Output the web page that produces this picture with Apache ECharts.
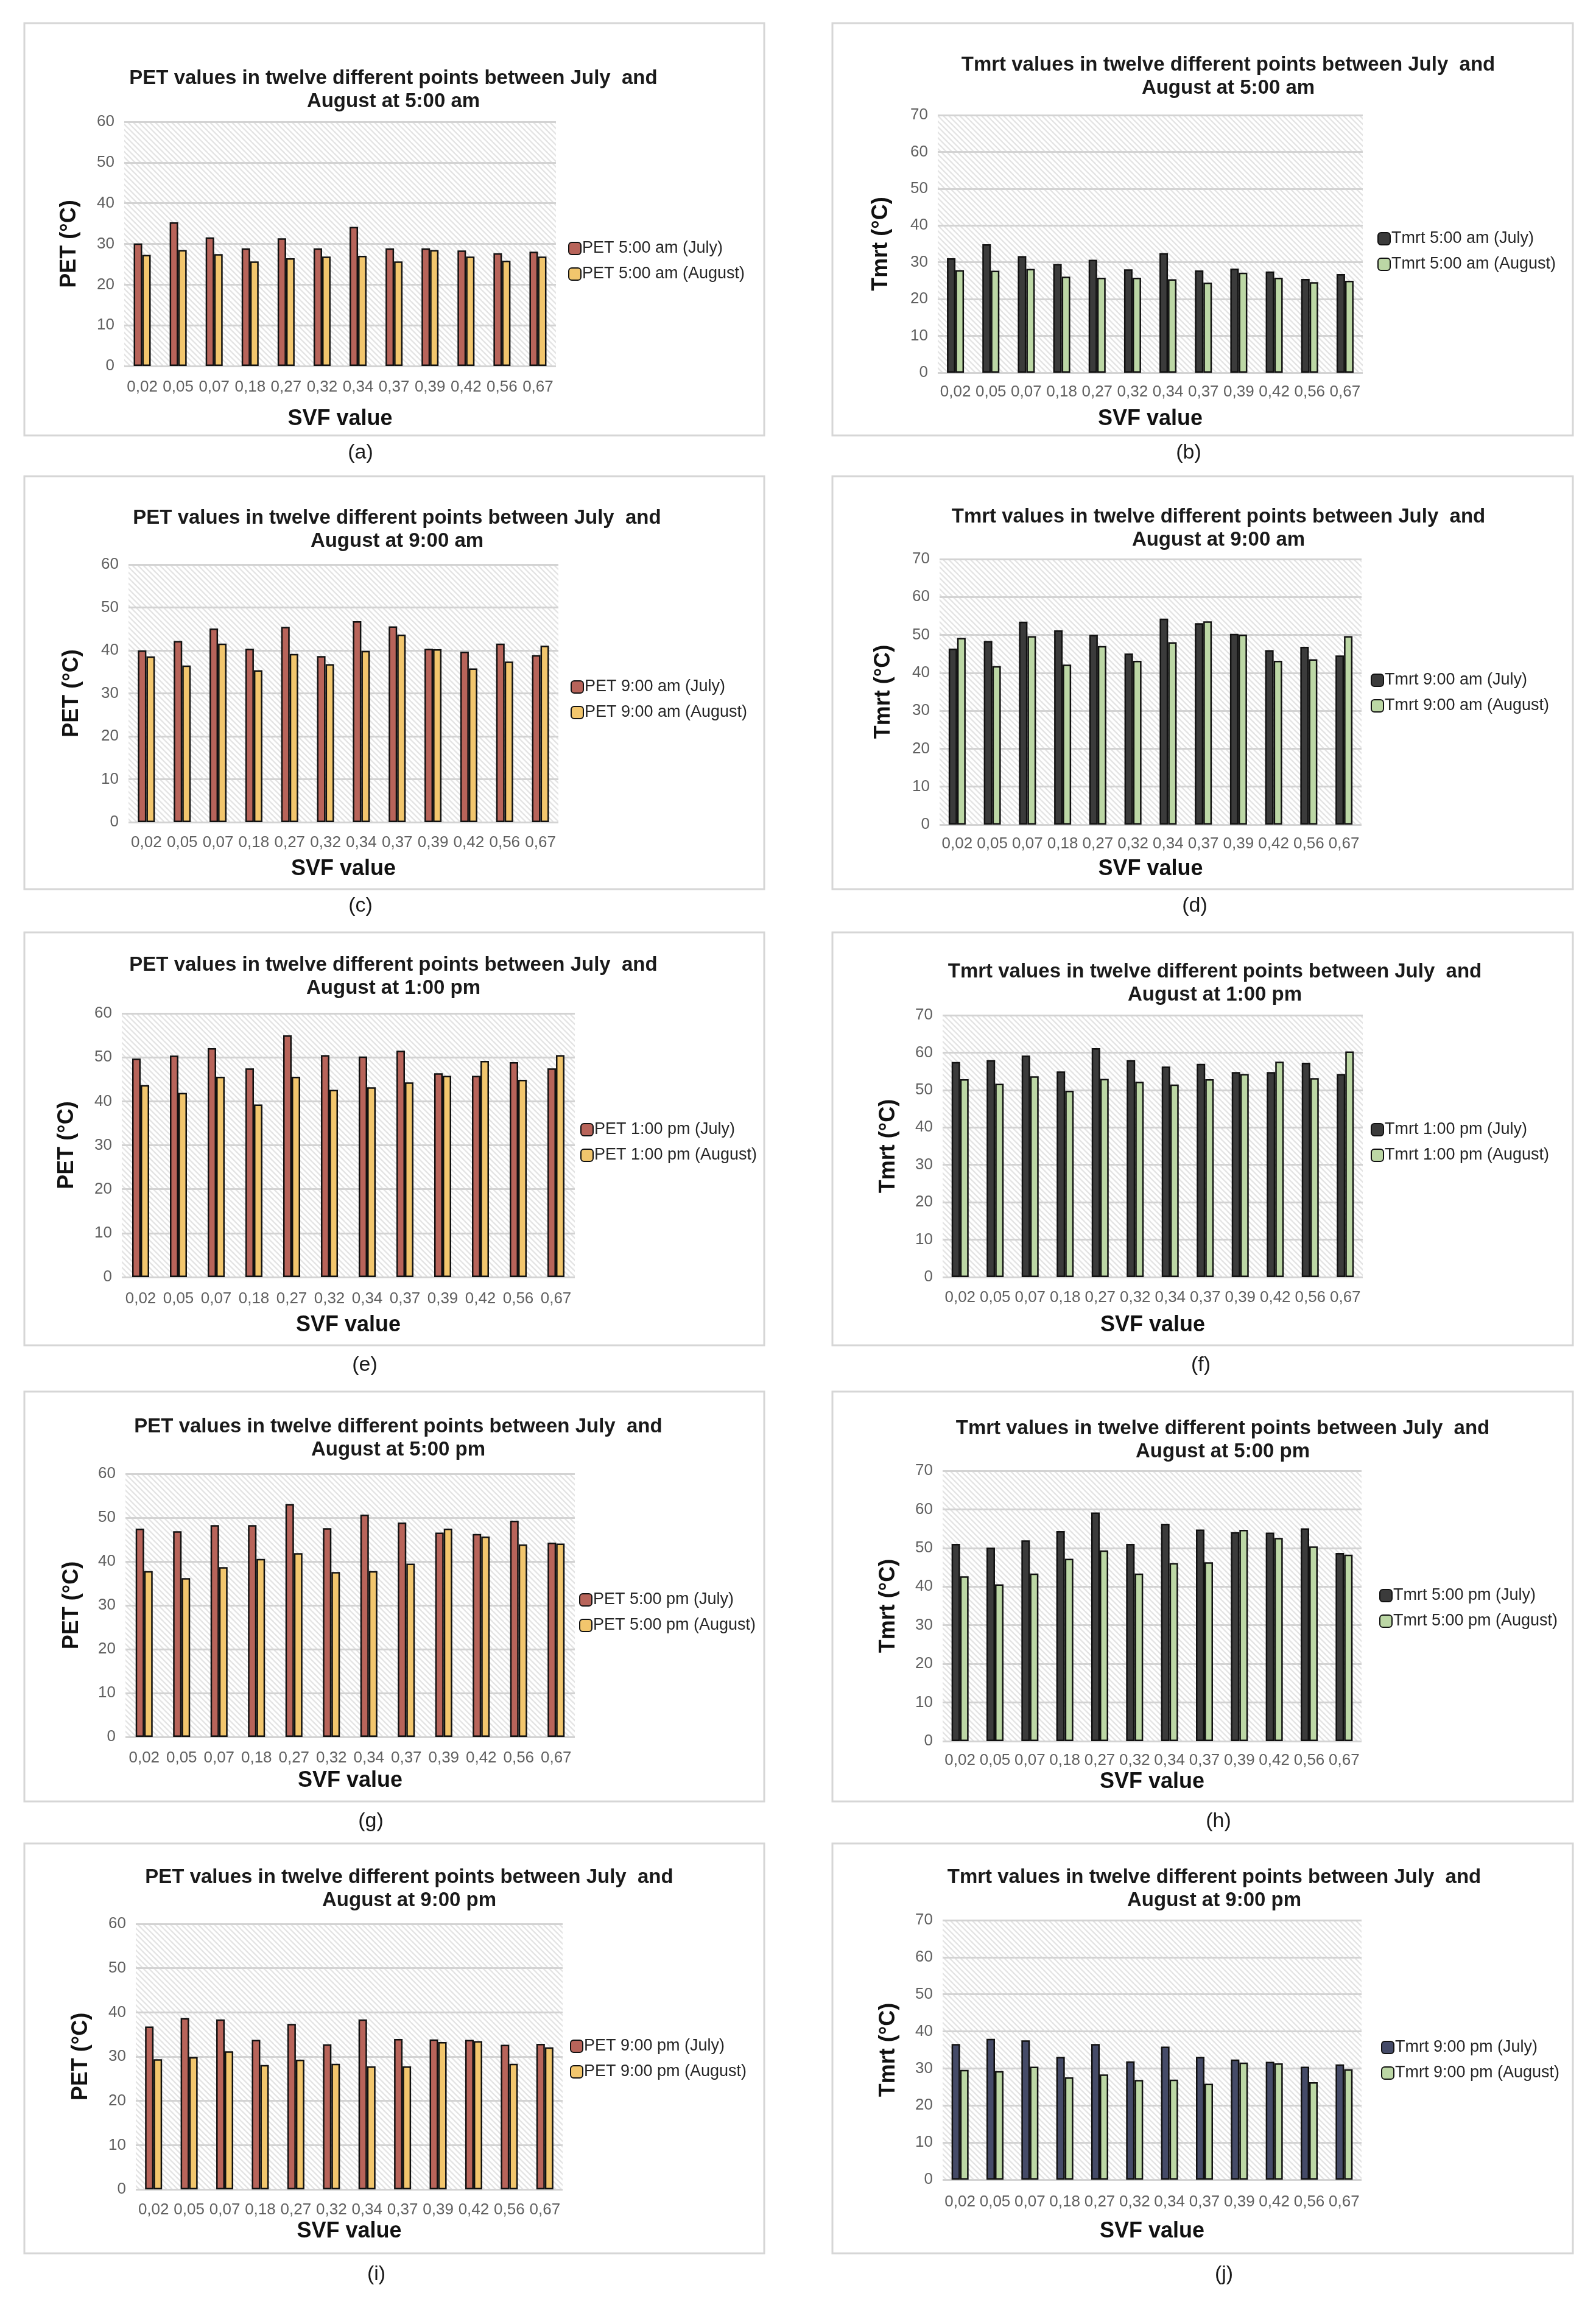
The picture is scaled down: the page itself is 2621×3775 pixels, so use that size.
<!DOCTYPE html>
<html>
<head>
<meta charset="utf-8">
<script src="https://cdn.jsdelivr.net/npm/echarts@6/dist/echarts.min.js"></script>
<style>
html,body{margin:0;padding:0;background:#fff;}
#c{width:2621px;height:3775px;}
</style>
</head>
<body>
<div id="c"></div>
<script>
const categories = ['0,02','0,05','0,07','0,18','0,27','0,32','0,34','0,37','0,39','0,42','0,56','0,67'];
const petTicks = [0,10,20,30,40,50,60];
const tmrtTicks = [0,10,20,30,40,50,60,70];

const pet5amJuly  = [30.1, 35.3, 31.6, 28.9, 31.4, 28.9, 34.2, 28.9, 28.9, 28.4, 27.7, 28.1];
const pet5amAug   = [27.3, 28.5, 27.5, 25.7, 26.5, 26.9, 27.1, 25.7, 28.5, 26.9, 25.9, 26.9];
const tmrt5amJuly = [31.1, 34.9, 31.7, 29.6, 30.7, 28.1, 32.5, 27.8, 28.3, 27.5, 25.5, 26.8];
const tmrt5amAug  = [27.9, 27.7, 28.2, 26.1, 25.8, 25.8, 25.4, 24.5, 27.2, 25.8, 24.6, 25.0];
const pet9amJuly  = [40.0, 42.2, 45.1, 40.4, 45.5, 38.7, 46.8, 45.6, 40.4, 39.7, 41.6, 38.9];
const pet9amAug   = [38.6, 36.5, 41.6, 35.4, 39.2, 36.8, 39.9, 43.7, 40.3, 35.8, 37.4, 41.1];
const tmrt9amJuly = [46.4, 48.4, 53.5, 51.2, 50.0, 45.1, 54.3, 53.1, 50.3, 46.0, 46.9, 44.6];
const tmrt9amAug  = [49.2, 41.8, 49.7, 42.2, 47.1, 43.2, 48.1, 53.6, 50.1, 43.2, 43.6, 49.7];
const pet1pmJuly  = [49.7, 50.4, 52.1, 47.5, 55.0, 50.5, 50.2, 51.5, 46.4, 45.8, 48.9, 47.5];
const pet1pmAug   = [43.7, 41.9, 45.6, 39.3, 45.6, 42.6, 43.2, 44.3, 45.8, 49.2, 44.9, 50.5];
const tmrt1pmJuly = [57.5, 58.0, 59.2, 55.0, 61.2, 58.0, 56.3, 57.0, 54.8, 54.8, 57.3, 54.3];
const tmrt1pmAug  = [52.9, 51.7, 53.7, 49.8, 53.0, 52.2, 51.5, 52.9, 54.3, 57.6, 53.2, 60.3];
const pet5pmJuly  = [47.5, 46.9, 48.3, 48.3, 53.1, 47.6, 50.7, 48.9, 46.6, 46.3, 49.3, 44.3];
const pet5pmAug   = [37.8, 36.2, 38.7, 40.6, 41.9, 37.6, 37.8, 39.5, 47.5, 45.7, 43.9, 44.1];
const tmrt5pmJuly = [51.1, 50.1, 52.0, 54.4, 59.2, 51.1, 56.3, 54.8, 54.1, 54.0, 55.1, 48.7];
const tmrt5pmAug  = [42.7, 40.6, 43.4, 47.2, 49.4, 43.4, 46.1, 46.3, 54.7, 52.6, 50.4, 48.3];
const pet9pmJuly  = [36.8, 38.7, 38.4, 33.8, 37.4, 32.8, 38.4, 34.0, 33.9, 33.8, 32.7, 32.9];
const pet9pmAug   = [29.4, 29.9, 31.2, 28.1, 29.3, 28.4, 27.8, 27.8, 33.3, 33.5, 28.4, 32.1];
const tmrt9pmJuly = [36.6, 38.0, 37.6, 33.1, 36.6, 31.9, 35.9, 33.1, 32.4, 31.8, 30.5, 31.1];
const tmrt9pmAug  = [29.6, 29.3, 30.5, 27.6, 28.4, 26.9, 27.0, 25.9, 31.6, 31.4, 26.3, 29.8];

const times = ['5:00 am','9:00 am','1:00 pm','5:00 pm','9:00 pm'];
const captions = ['(a)','(b)','(c)','(d)','(e)','(f)','(g)','(h)','(i)','(j)'];

const panelData = [
  ['PET',0,pet5amJuly,pet5amAug], ['Tmrt',0,tmrt5amJuly,tmrt5amAug],
  ['PET',1,pet9amJuly,pet9amAug], ['Tmrt',1,tmrt9amJuly,tmrt9amAug],
  ['PET',2,pet1pmJuly,pet1pmAug], ['Tmrt',2,tmrt1pmJuly,tmrt1pmAug],
  ['PET',3,pet5pmJuly,pet5pmAug], ['Tmrt',3,tmrt5pmJuly,tmrt5pmAug],
  ['PET',4,pet9pmJuly,pet9pmAug], ['Tmrt',4,tmrt9pmJuly,tmrt9pmAug]
];

const layout = [
  {p:[204,200,913,601],  cx:641,  ty:125,  lg:[928,403],  yn:114,  sv:688,  xl:636},
  {p:[1540,189,2238,612],cx:2012, ty:103,  lg:[2257,387], yn:1447, sv:688,  xl:644},
  {p:[211,927,917,1350], cx:647,  ty:847,  lg:[932,1123], yn:118,  sv:1427, xl:1384},
  {p:[1543,918,2236,1354],cx:1996,ty:845,  lg:[2246,1112],yn:1451, sv:1427, xl:1386},
  {p:[200,1664,944,2097],cx:641,  ty:1581, lg:[948,1850], yn:110,  sv:2176, xl:2133},
  {p:[1548,1667,2238,2097],cx:1990,ty:1592,lg:[2246,1850],yn:1459, sv:2176, xl:2131},
  {p:[206,2420,944,2852],cx:649,  ty:2339, lg:[946,2622], yn:118,  sv:2924, xl:2887},
  {p:[1548,2415,2236,2859],cx:2003,ty:2342,lg:[2260,2615],yn:1459, sv:2926, xl:2891},
  {p:[223,3159,924,3595],cx:667,  ty:3079, lg:[931,3355], yn:133,  sv:3664, xl:3629},
  {p:[1548,3153,2236,3579],cx:1989,ty:3079,lg:[2263,3357],yn:1459, sv:3664, xl:3616}
];
const boxRows = [[38,715],[782,1460],[1531,2209],[2285,2958],[3027,3700]];
const boxCols = [[40,1255],[1367,2583]];
const capY = [744,1488,2242,2991,3735];
const capX = [[592,1952],[592,1962],[599,1972],[609,2001],[618,2010]];

// hatch pattern
const HS = 9;
const hc = document.createElement('canvas');
hc.width = HS; hc.height = HS;
const hx = hc.getContext('2d');
hx.fillStyle = '#ffffff'; hx.fillRect(0,0,HS,HS);
hx.strokeStyle = '#e4e4e4'; hx.lineWidth = 2.4;
for (const k of [-HS,0,HS]) { hx.beginPath(); hx.moveTo(-2, -2 + k); hx.lineTo(HS+2, HS+2 + k); hx.stroke(); }
const hatch = {image: hc, repeat: 'repeat'};

const FONT = "'Liberation Sans', Arial, sans-serif";
const grids = [], xAxes = [], yAxes = [], series = [], titles = [], legends = [], graphics = [];

panelData.forEach((pd, i) => {
  const [metric, ti, july, aug] = pd;
  const L = layout[i];
  const [l,t,r,b] = L.p;
  const isPet = metric === 'PET';
  const ticks = isPet ? petTicks : tmrtTicks;
  grids.push({left:l, top:t, width:r-l, height:b-t, show:true, backgroundColor:hatch, borderWidth:0});
  xAxes.push({
    type:'category', gridIndex:i, data:categories,
    axisLine:{show:false}, axisTick:{show:false},
    axisLabel:{interval:0, fontSize:26, color:'#606060', fontFamily:FONT, margin:L.xl-b-13},
    name:'SVF value', nameLocation:'middle', nameGap:L.sv-b-18,
    nameTextStyle:{fontSize:36, fontWeight:'bold', color:'#111', fontFamily:FONT}
  });
  yAxes.push({
    type:'value', gridIndex:i, min:ticks[0], max:ticks[ticks.length-1], interval:10,
    axisLine:{show:false}, axisTick:{show:false},
    axisLabel:{fontSize:26, color:'#606060', fontFamily:FONT, margin:16},
    splitLine:{lineStyle:{color:'#d3d3d3', width:3}},
    name: metric + ' (°C)', nameLocation:'middle', nameRotate:90, nameGap:l-L.yn-18,
    nameTextStyle:{fontSize:36, fontWeight:'bold', color:'#111', fontFamily:FONT}
  });
  const jc = isPet ? '#b8645a' : (i === 9 ? '#454b68' : '#3b3b3b');
  const ac = isPet ? '#f2c66d' : '#bcd7a5';
  const n1 = metric + ' ' + times[ti] + ' (July)';
  const n2 = metric + ' ' + times[ti] + ' (August)';
  series.push({type:'bar', name:n1, xAxisIndex:i, yAxisIndex:i, data:july, barWidth:14, barGap:'0%',
    itemStyle:{color:jc, borderColor:'#111', borderWidth:2.5}, silent:true});
  series.push({type:'bar', name:n2, xAxisIndex:i, yAxisIndex:i, data:aug, barWidth:14, barGap:'0%',
    itemStyle:{color:ac, borderColor:'#111', borderWidth:2.5}, silent:true});
  titles.push({
    text: metric + ' values in twelve different points between July  and\nAugust at ' + times[ti],
    left: L.cx, top: L.ty - 20, textAlign:'center',
    textStyle:{fontSize:33, fontWeight:'bold', color:'#1a1a1a', fontFamily:FONT, lineHeight:38}
  });
  legends.push({
    data:[n1, n2], orient:'vertical', left:L.lg[0], top:L.lg[1]-14,
    itemWidth:20, itemHeight:20, itemGap:14, selectedMode:false,
    textStyle:{fontSize:27, color:'#262626', fontFamily:FONT, padding:[0,0,0,-3], lineHeight:28}
  });
  const row = Math.floor(i/2), col = i%2;
  graphics.push({type:'rect', shape:{x:boxCols[col][0], y:boxRows[row][0], width:boxCols[col][1]-boxCols[col][0], height:boxRows[row][1]-boxRows[row][0]},
    style:{fill:'none', stroke:'#d6d6d6', lineWidth:3}, silent:true});
  graphics.push({type:'text', x:capX[row][col], y:capY[row], style:{text:captions[i], font:"34px 'Liberation Sans', Arial", fill:'#1a1a1a', textAlign:'center', textVerticalAlign:'middle'}, silent:true});
});

const chart = echarts.init(document.getElementById('c'), null, {renderer:'canvas'});
chart.setOption({
  backgroundColor:'#ffffff',
  animation:false,
  title:titles, legend:legends, grid:grids, xAxis:xAxes, yAxis:yAxes, series:series,
  graphic:graphics
});
</script>
</body>
</html>
